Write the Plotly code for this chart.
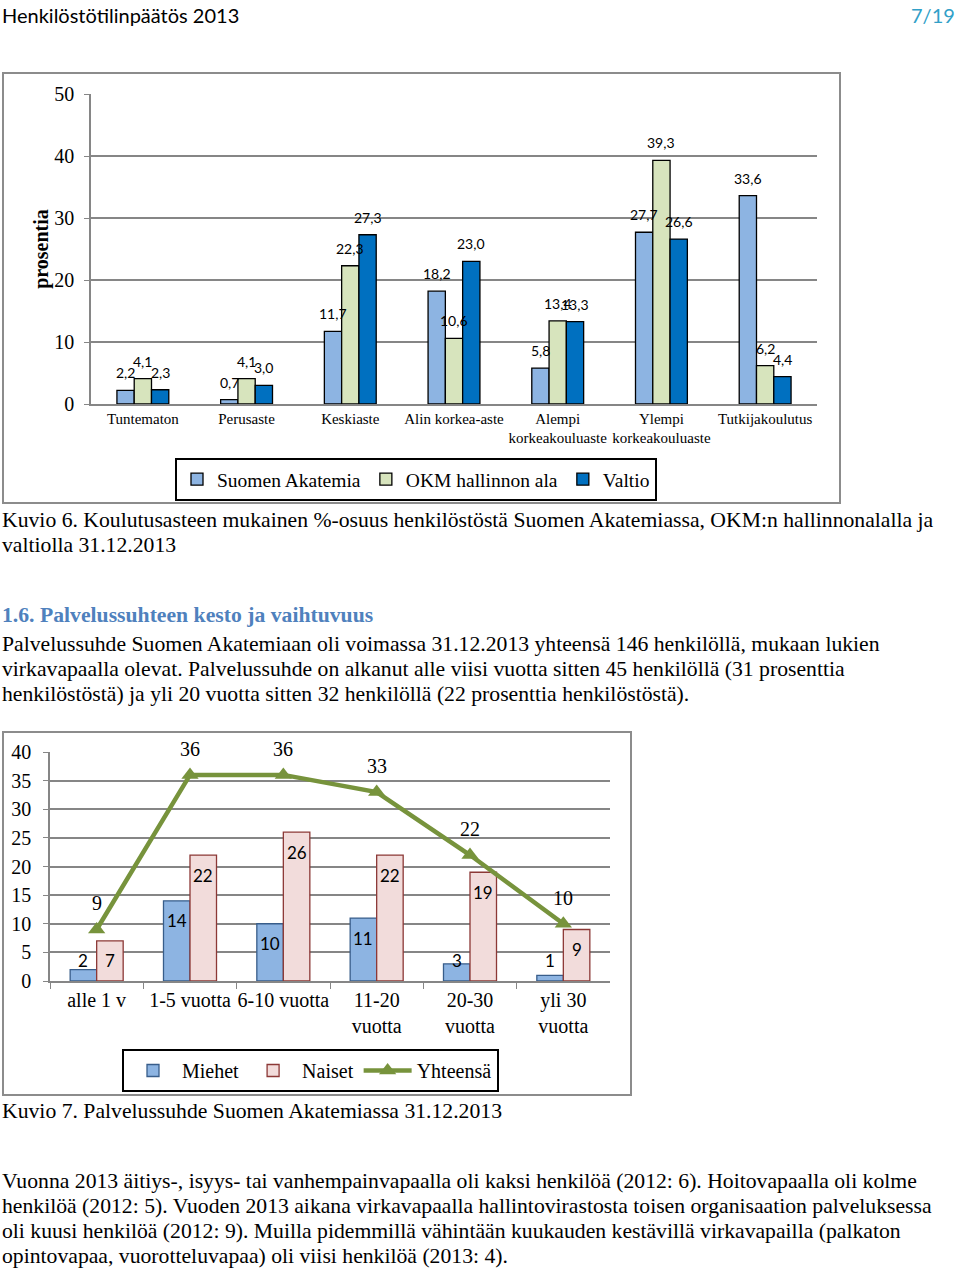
import plotly.graph_objects as go

W, H = 960, 1271

# ---------------- Data: Kuvio 6 ----------------
edu_categories = ["Tuntematon", "Perusaste", "Keskiaste", "Alin korkea-aste",
                  "Alempi<br>korkeakouluaste", "Ylempi<br>korkeakouluaste", "Tutkijakoulutus"]
suomen_akatemia = [2.2, 0.7, 11.7, 18.2, 5.8, 27.7, 33.6]
okm_hallinnon_ala = [4.1, 4.1, 22.3, 10.6, 13.4, 39.3, 6.2]
valtio = [2.3, 3.0, 27.3, 23.0, 13.3, 26.6, 4.4]
edu_series_names = ["Suomen Akatemia", "OKM hallinnon ala", "Valtio"]
edu_colors = ["#8DB4E2", "#D7E4BD", "#0070C0"]
edu_yticks = [0, 10, 20, 30, 40, 50]

# ---------------- Data: Kuvio 7 ----------------
tenure_categories = ["alle 1 v", "1-5 vuotta", "6-10 vuotta", "11-20<br>vuotta",
                     "20-30<br>vuotta", "yli 30<br>vuotta"]
miehet = [2, 14, 10, 11, 3, 1]
naiset = [7, 22, 26, 22, 19, 9]
yhteensa = [9, 36, 36, 33, 22, 10]
tenure_yticks = [0, 5, 10, 15, 20, 25, 30, 35, 40]

# ---------------- Texts ----------------
header_left = "Henkilöstötilinpäätös 2013"
header_right = "7/19"
caption6 = ["Kuvio 6. Koulutusasteen mukainen %-osuus henkilöstöstä Suomen Akatemiassa, OKM:n hallinnonalalla ja",
            "valtiolla 31.12.2013"]
heading = "1.6. Palvelussuhteen kesto ja vaihtuvuus"
para1 = ["Palvelussuhde Suomen Akatemiaan oli voimassa 31.12.2013 yhteensä 146 henkilöllä, mukaan lukien",
         "virkavapaalla olevat. Palvelussuhde on alkanut alle viisi vuotta sitten 45 henkilöllä (31 prosenttia",
         "henkilöstöstä) ja yli 20 vuotta sitten 32 henkilöllä (22 prosenttia henkilöstöstä)."]
caption7 = "Kuvio 7. Palvelussuhde Suomen Akatemiassa 31.12.2013"
para2 = ["Vuonna 2013 äitiys-, isyys- tai vanhempainvapaalla oli kaksi henkilöä (2012: 6). Hoitovapaalla oli kolme",
         "henkilöä (2012: 5). Vuoden 2013 aikana virkavapaalla hallintovirastosta toisen organisaation palveluksessa",
         "oli kuusi henkilöä (2012: 9). Muilla pidemmillä vähintään kuukauden kestävillä virkavapailla (palkaton",
         "opintovapaa, vuorotteluvapaa) oli viisi henkilöä (2013: 4)."]

SERIF = "Liberation Serif, Times New Roman, serif"
SANS = "Lato, Open Sans, sans-serif"
GRID = "#868686"


def px(x):
    return x / W


def py(y):
    return 1 - y / H


fig = go.Figure()

# ---- Chart 1 bars ----
for name, vals, col in zip(edu_series_names, [suomen_akatemia, okm_hallinnon_ala, valtio], edu_colors):
    fig.add_trace(go.Bar(x=edu_categories, y=vals, name=name, marker_color=col,
                         marker_line_color="black", marker_line_width=1.3,
                         xaxis="x", yaxis="y", legend="legend"))

# ---- Chart 2 bars + line ----
bw2 = 0.284
fig.add_trace(go.Bar(x=tenure_categories, y=miehet, name="Miehet", marker_color="#8DB4E2",
                     marker_line_color="#385D8A", marker_line_width=1.3,
                     width=bw2, offset=-bw2, xaxis="x2", yaxis="y2", legend="legend2"))
fig.add_trace(go.Bar(x=tenure_categories, y=naiset, name="Naiset", marker_color="#F2DCDB",
                     marker_line_color="#8C3836", marker_line_width=1.3,
                     width=bw2, offset=0, xaxis="x2", yaxis="y2", legend="legend2"))
fig.add_trace(go.Scatter(x=tenure_categories, y=yhteensa, name="Yhteensä", mode="lines+markers",
                         line=dict(color="#77933C", width=4.5),
                         marker=dict(symbol="triangle-up", size=15, color="#77933C"),
                         xaxis="x2", yaxis="y2", legend="legend2"))

annotations = []


def fmt(v):
    return f"{v:.1f}".replace(".", ",")


# Chart 1 value labels
bw1 = (817 - 91) / 7 * 0.5 / 3
for i, vals in enumerate([suomen_akatemia, okm_hallinnon_ala, valtio]):
    for c, v in zip(edu_categories, vals):
        annotations.append(dict(x=c, y=v, xref="x", yref="y", text=fmt(v), showarrow=False,
                                xshift=(i - 1) * bw1, yshift=17.5, yanchor="middle",
                                font=dict(family=SANS, size=14, color="black")))

# Chart 2 value labels
bpx2 = (610 - 50) / 6 * bw2
for c, v in zip(tenure_categories, miehet):
    annotations.append(dict(x=c, y=max(v - 3.5, 3.5), xref="x2", yref="y2", text=str(v), showarrow=False,
                            xshift=-bpx2 / 2, yanchor="middle",
                            font=dict(family=SANS, size=17, color="black")))
for c, v in zip(tenure_categories, naiset):
    annotations.append(dict(x=c, y=max(v - 3.5, 3.5), xref="x2", yref="y2", text=str(v), showarrow=False,
                            xshift=bpx2 / 2, yanchor="middle",
                            font=dict(family=SANS, size=17, color="black")))
for c, v in zip(tenure_categories, yhteensa):
    annotations.append(dict(x=c, y=v, xref="x2", yref="y2", text=str(v), showarrow=False,
                            yshift=26, yanchor="middle",
                            font=dict(family=SERIF, size=20, color="black")))


# Page texts
def text_line(txt, x, y, size=21.7, color="black", family=SERIF, anchor="left", bold=False):
    if bold:
        txt = f"<b>{txt}</b>"
    annotations.append(dict(x=px(x), y=py(y), xref="paper", yref="paper", text=txt, showarrow=False,
                            xanchor=anchor, yanchor="middle", borderpad=0, borderwidth=0,
                            font=dict(family=family, size=size, color=color)))


text_line(header_left, 2, 15, size=20, family=SANS)
text_line(header_right, 955, 15, size=20, family=SANS, color="#31A0C8", anchor="right")
for i, t in enumerate(caption6):
    text_line(t, 2, 520 + 25 * i)
text_line(heading, 2, 615, color="#4F81BD", bold=True)
for i, t in enumerate(para1):
    text_line(t, 2, 644 + 25 * i)
text_line(caption7, 2, 1111)
for i, t in enumerate(para2):
    text_line(t, 2, 1181 + 25 * i)

shapes = [
    dict(type="rect", xref="paper", yref="paper", x0=px(3), x1=px(840), y0=py(503), y1=py(73),
         line=dict(color="#8C8C8C", width=2)),
    dict(type="rect", xref="paper", yref="paper", x0=px(3), x1=px(631), y0=py(1095), y1=py(732),
         line=dict(color="#8C8C8C", width=2)),
]

fig.update_layout(
    width=W, height=H, margin=dict(l=0, r=0, t=0, b=0, autoexpand=False),
    paper_bgcolor="white", plot_bgcolor="white",
    barmode="group", bargap=0.5, bargroupgap=0,
    showlegend=True,
    annotations=annotations, shapes=shapes,
    xaxis=dict(domain=[px(91), px(817)], anchor="y", type="category", showgrid=False,
               showline=True, linecolor=GRID, linewidth=1.5, ticks="", tickangle=0,
               tickfont=dict(family=SERIF, size=15, color="black")),
    yaxis=dict(domain=[py(404), py(94)], anchor="x", range=[0, 50], tickvals=edu_yticks,
               showgrid=True, gridcolor=GRID, gridwidth=1.5, zeroline=False,
               showline=True, linecolor=GRID, linewidth=1.5,
               ticks="outside", ticklen=5, tickcolor=GRID, ticklabelstandoff=6,
               tickfont=dict(family=SERIF, size=20, color="black"),
               title=dict(text="<b>prosentia</b>", standoff=0,
                          font=dict(family=SERIF, size=20, color="black"))),
    xaxis2=dict(domain=[px(50), px(610)], anchor="y2", type="category", showgrid=False,
                showline=True, linecolor=GRID, linewidth=1.5, ticks="outside", ticklen=6,
                tickcolor=GRID, tickson="boundaries", tickangle=0,
                tickfont=dict(family=SERIF, size=20, color="black")),
    yaxis2=dict(domain=[py(981), py(752)], anchor="x2", range=[0, 40], tickvals=tenure_yticks,
                showgrid=True, gridcolor=GRID, gridwidth=1.5, zeroline=False,
                showline=True, linecolor=GRID, linewidth=1.5,
                ticks="outside", ticklen=5, tickcolor=GRID, ticklabelstandoff=8,
                tickfont=dict(family=SERIF, size=20, color="black")),
    legend=dict(orientation="h", x=px(175), y=py(458), xanchor="left", yanchor="top",
                bordercolor="black", borderwidth=2, bgcolor="white",
                font=dict(family=SERIF, size=19.5, color="black"),
                itemwidth=30, traceorder="normal"),
    legend2=dict(orientation="h", x=px(122), y=py(1049), xanchor="left", yanchor="top",
                 bordercolor="black", borderwidth=2, bgcolor="white",
                 font=dict(family=SERIF, size=20, color="black"),
                 itemwidth=48, traceorder="normal"),
)

fig.write_html("out.html", config={"displayModeBar": False},
               post_script="document.body.style.margin='0px';document.body.style.overflow='hidden';")
